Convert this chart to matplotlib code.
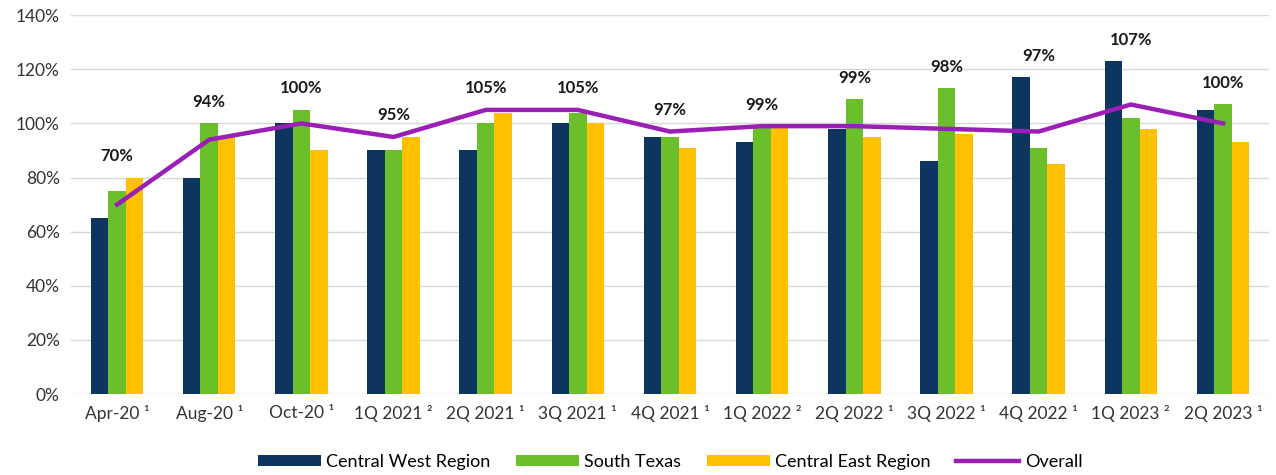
import numpy as np
import matplotlib.pyplot as plt

plt.rcParams['font.family'] = ['Lato', 'DejaVu Sans']

quarters = ['Apr-20 ¹', 'Aug-20 ¹', 'Oct-20 ¹', '1Q 2021 ²', '2Q 2021 ¹', '3Q 2021 ¹',
            '4Q 2021 ¹', '1Q 2022 ²', '2Q 2022 ¹', '3Q 2022 ¹', '4Q 2022 ¹', '1Q 2023 ²', '2Q 2023 ¹']
central_west = [65, 80, 100, 90, 90, 100, 95, 93, 98, 86, 117, 123, 105]
south_texas = [75, 100, 105, 90, 100, 104, 95, 99, 109, 113, 91, 102, 107]
central_east = [80, 95, 90, 95, 104, 100, 91, 99, 95, 96, 85, 98, 93]
overall = [70, 94, 100, 95, 105, 105, 97, 99, 99, 98, 97, 107, 100]

fig = plt.figure(figsize=(12.76, 4.75), dpi=100)
ax = fig.add_axes([0.0556, 0.1705, 0.939, 0.7975])

x = np.arange(len(quarters))
w = 0.19
b1 = ax.bar(x - w, central_west, w, color='#0E3460', label='Central West Region', zorder=2)
b2 = ax.bar(x, south_texas, w, color='#6BBF2A', label='South Texas', zorder=2)
b3 = ax.bar(x + w, central_east, w, color='#FFC000', label='Central East Region', zorder=2)
l1, = ax.plot(x, overall, color='#9B1FB5', lw=3.2, label='Overall', zorder=3)

for i in range(len(x)):
    top = max(central_west[i], south_texas[i], central_east[i], overall[i])
    ax.text(x[i], top + 5, f'{overall[i]}%', ha='center', va='bottom',
            fontsize=12, fontweight='bold', color='#1a1a1a')

ax.set_xlim(-0.5, len(x) - 0.5)
ax.set_ylim(0, 140)
ax.set_yticks(range(0, 141, 20))
ax.set_yticklabels([f'{v}%' for v in range(0, 141, 20)], fontsize=12.5, color='#333333')
ax.set_xticks(x)
ax.set_xticklabels(quarters, fontsize=12.5, color='#333333')
ax.tick_params(length=0, pad=8)
ax.grid(axis='y', color='#D9D9D9', lw=1, zorder=0)
for s in ax.spines.values():
    s.set_visible(False)

ax.legend([b1, b2, b3, l1], ['Central West Region', 'South Texas', 'Central East Region', 'Overall'],
          loc='upper center', bbox_to_anchor=(0.5, -0.115), ncol=4, frameon=False,
          fontsize=13, handlelength=3.5, handleheight=0.6, columnspacing=1.4,
          handletextpad=0.3)

fig.savefig('out.png', dpi=100)
